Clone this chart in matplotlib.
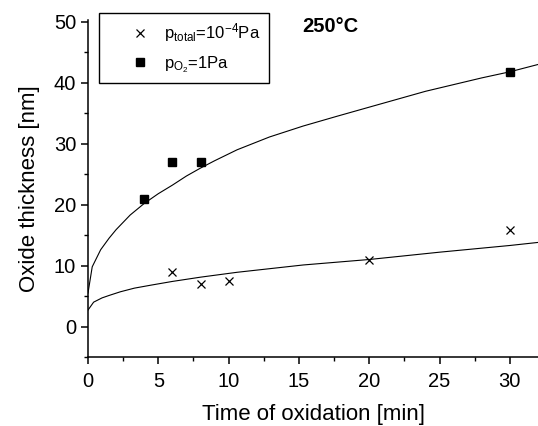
import matplotlib
matplotlib.use("Agg")
import matplotlib.pyplot as plt
from matplotlib.ticker import MultipleLocator

plt.rcParams['font.family'] = ['Liberation Sans', 'DejaVu Sans']
plt.rcParams['mathtext.fontset'] = 'custom'
plt.rcParams['mathtext.rm'] = 'Liberation Sans'
plt.rcParams['mathtext.it'] = 'Liberation Sans'

# measured points
t_o2 = [4, 6, 8, 30]
y_o2 = [21, 27, 27, 41.8]
t_total = [6, 8, 10, 20, 30]
y_total = [9.0, 7.0, 7.5, 10.9, 15.8]

# fitted curves
fit_o2_t = [0, 0.3, 0.9, 1.5, 2, 3, 4, 5, 6, 7, 8, 9, 10.6, 12.9, 15.3, 17.7, 20, 24, 28, 30, 32]
fit_o2_y = [5.5, 9.8, 12.6, 14.5, 15.9, 18.3, 20.2, 21.8, 23.2, 24.7, 26.0, 27.2, 29.0, 31.1, 32.9, 34.5, 36.0, 38.6, 40.8, 41.8, 43.0]
fit_total_t = [0, 0.4, 1, 1.5, 2.3, 3.3, 4.5, 6, 8, 10.6, 15.3, 20, 25, 30, 32]
fit_total_y = [2.7, 4.0, 4.7, 5.1, 5.7, 6.3, 6.8, 7.4, 8.1, 8.9, 10.1, 11.0, 12.2, 13.3, 13.8]

label_total = r'p$_{\mathregular{total}}$=10$^{\mathregular{-4}}$Pa'
label_o2 = r'p$_{\mathregular{O_2}}$=1Pa'

fig = plt.figure(figsize=(5.38, 4.26), dpi=100)
ax = fig.add_axes([88/538, 1-357/426, 450/538, 337/426])

ax.plot(fit_o2_t, fit_o2_y, color='black', lw=0.8)
ax.plot(fit_total_t, fit_total_y, color='black', lw=0.8)
ax.plot(t_total, y_total, linestyle='none', marker='x', color='black',
        markersize=6, markeredgewidth=0.9, label=label_total)
ax.plot(t_o2, y_o2, linestyle='none', marker='s', color='black',
        markersize=5.5, label=label_o2)

ax.set_xlim(0, 32)
ax.set_ylim(-5, 50.3)
ax.xaxis.set_major_locator(MultipleLocator(5))
ax.xaxis.set_minor_locator(MultipleLocator(2.5))
ax.yaxis.set_major_locator(MultipleLocator(10))
ax.yaxis.set_minor_locator(MultipleLocator(5))
for s in ['top', 'right']:
    ax.spines[s].set_visible(False)
for s in ['left', 'bottom']:
    ax.spines[s].set_linewidth(1.1)
ax.tick_params(which='major', direction='out', length=5, width=1.1, labelsize=14.5, pad=3.5)
ax.tick_params(which='minor', direction='out', length=3, width=1.0)
ax.tick_params(axis='x', which='major', pad=6)

ax.set_xlabel('Time of oxidation [min]', fontsize=16, labelpad=9)
ax.set_ylabel('Oxide thickness [nm]', fontsize=16, labelpad=10)

leg = ax.legend(loc='upper left', bbox_to_anchor=(99/538, 1-13/426),
                bbox_transform=fig.transFigure, fontsize=12, frameon=True,
                fancybox=False, edgecolor='black', framealpha=1,
                handlelength=3.9, handletextpad=-0.5, borderpad=0.5,
                labelspacing=0.6, borderaxespad=0)
leg.get_frame().set_linewidth(1.0)
leg.set_zorder(5)

fig.text(302/538, 1-26/426, '250°C', fontsize=14.5, fontweight='bold',
         ha='left', va='center')

fig.savefig('out.png', dpi=100)
